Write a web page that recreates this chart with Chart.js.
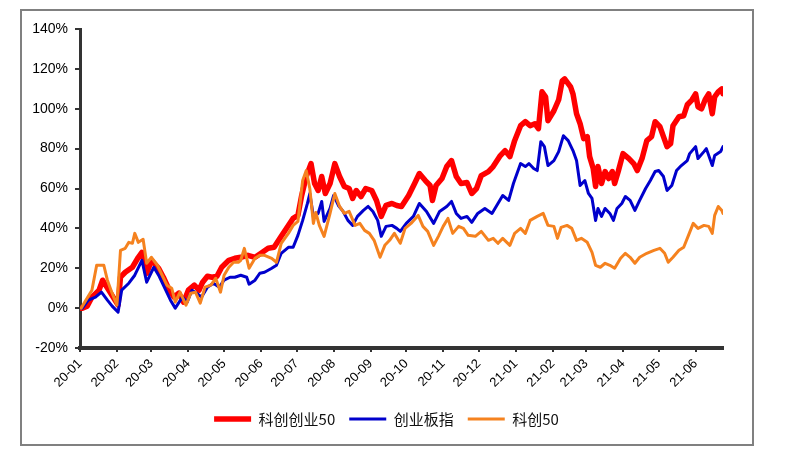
<!DOCTYPE html>
<html>
<head>
<meta charset="utf-8">
<script src="https://cdn.jsdelivr.net/npm/chart.js@4.4.1/dist/chart.umd.min.js"></script>
<style>
html,body{margin:0;padding:0;background:#fff;}
#wrap{width:800px;height:464px;position:relative;}
</style>
</head>
<body>
<div id="wrap"><canvas id="c" width="800" height="464"></canvas></div>
<script>
// Series names
const seriesNames = ['科创创业50', '创业板指', '科创50'];

// X axis: days since 2020-01-01, ticks at month starts
const tickDays = [0, 31, 60, 91, 121, 152, 182, 213, 244, 274, 305, 335, 366, 397, 425, 456, 486, 517];
const tickLabels = ['20-01','20-02','20-03','20-04','20-05','20-06','20-07','20-08','20-09','20-10','20-11','20-12','21-01','21-02','21-03','21-04','21-05','21-06'];

// 科创创业50 (cumulative return, %)
const redDays = [1,2,6,10,16,19,32,34,38,44,49,52,56,60,66,70,75,79,83,87,91,96,100,103,107,111,115,119,125,130,135,141,147,152,158,163,169,175,179,183,186,190,194,197,200,203,206,210,214,218,222,226,229,232,236,240,245,249,253,257,262,266,270,276,281,285,290,294,296,299,304,308,312,316,320,325,329,333,337,343,347,353,357,361,365,370,374,378,382,385,388,391,393,398,402,405,407,412,414,417,420,423,426,428,431,433,435,438,441,444,447,449,452,456,461,465,468,472,476,480,483,487,490,493,496,498,503,507,510,514,517,519,522,525,528,531,533,536,539,540];
const redVals = [0,0,1,5.5,9,14,1.5,15.5,18,20.5,25.5,28,17.5,24,20,15.5,9,5.5,7.5,3,9,11.5,9,13,16,15.5,16,20.5,24,25,25.5,26.5,25.5,27.5,30,30.5,36,41.5,45,46.5,56,66,72.5,62.5,59,66,57.5,62.5,72.5,66,61,60,55,59,56,60,59,54,46,51.5,52.5,51.5,51,56.5,62.5,67.5,64,61.5,54,61.5,65,71,74,66,62.5,63,57.5,60,66.5,68.5,71,76.5,79,76,84,91.5,93.5,91.5,92.5,90,108.5,106,94,99,104.5,114,115,111,107.5,97.5,92.5,85,86,76,70,61,71,62.5,68.5,65,68.5,62.5,68.5,77.5,75,72.5,69,75,84,86,93.5,91,86,81,82.5,91.5,96,96.5,102,104.5,107.5,101,100,104.5,107.5,97.5,106,108.5,110,107.5];

// 创业板指
const blueDays = [1,2,7,13,18,23,27,32,35,41,46,52,56,62,66,72,76,80,86,90,94,98,102,107,112,117,121,126,130,135,140,142,147,151,155,161,165,169,175,179,183,187,191,193,196,200,203,205,210,213,217,221,225,229,233,238,242,246,250,253,257,262,266,269,274,280,285,291,297,302,308,312,316,320,325,329,334,340,346,351,355,360,364,370,374,377,381,384,387,390,393,398,402,406,410,414,417,420,424,427,430,433,435,438,441,445,448,451,455,458,462,466,470,475,479,483,486,490,493,497,501,505,510,512,517,519,524,526,531,533,538,540];
const blueVals = [0,0,4,5.5,8,4,1,-2,9,12.5,16.5,24,13,20.5,16.5,9,4,0,5.5,3,9,7.5,5.5,10.5,12.5,10.5,14,15.5,15.5,16.5,15.5,12,14,17.5,18,20,21.5,27.5,30.5,30.5,36.5,44,52.5,57.5,46,47.5,53.5,43.5,50,56.5,51.5,48.5,44,41.5,46,49,51,48.5,44,36,41,41.5,40,38.5,42.5,46,52.5,48.5,42.5,48.5,51,53.5,47.5,45,46,43,47.5,50,47.5,52.5,56.5,54,62.5,72.5,71,72.5,70,69,83.5,81,71.5,74,78.5,86.5,84,79,74,61.5,64,57.5,55,44,50,46,50,47.5,44,50,52.5,56,54,49,54,60,64,68.5,69,66,59,61.5,69,71.5,74,77.5,81,75,78.5,80,71.5,76.5,78.5,81];

// 科创50
const orangeDays = [1,4,10,14,20,23,27,31,34,38,41,44,46,49,53,56,60,65,69,73,77,80,84,89,93,97,101,105,110,114,118,121,125,129,133,135,138,142,147,151,155,161,165,169,175,179,183,187,190,193,196,198,201,205,210,214,218,222,226,231,235,239,243,247,252,256,260,264,269,273,278,284,288,292,297,301,305,309,313,318,322,326,332,337,343,347,351,355,361,365,370,374,378,384,389,393,398,401,404,409,413,417,421,426,430,433,437,441,445,449,454,458,462,466,470,476,482,487,491,494,498,503,507,511,515,519,524,528,531,533,536,539,540];
const orangeVals = [0,3,9,21.5,21.5,14,7.5,1.5,29,30,33,32.5,37.5,33,34.5,22.5,25.5,21.5,16.5,11.5,10,3,8,1.5,7.5,8,2.5,10.5,11.5,15,8,16.5,20.5,23,23,24,30,20,25,26.5,26.5,25,23,32.5,37.5,41.5,43.5,64,69,60,42.5,48,41.5,36,47.5,57.5,51,47.5,48.5,41.5,42.5,39,37.5,34,25.5,31.5,34,37.5,32.5,40,42.5,46.5,41,38.5,31.5,36,41,45,37.5,41,40,36.5,36,38.5,34,35,32.5,35,31.5,37.5,40,37.5,44,46,47.5,41.5,41,35,40.5,41.5,40,34,35,33,28,21.5,20.5,22.5,21.5,20,25,27.5,25.5,22.5,25.5,27.5,29,30,27.5,23,25.5,29,30.5,36.5,42.5,40,41.5,41,37.5,46.5,51,49,47.5];

const colors = ['#FF0000', '#0000CC', '#F5821F'];
const widths = [5.5, 3, 3];

function pts(days, vals) { return days.map((d, i) => ({ x: d, y: vals[i] })); }

const frame = {
  id: 'frame',
  beforeDraw(chart) {
    const ctx = chart.ctx;
    ctx.save();
    ctx.fillStyle = '#ffffff';
    ctx.fillRect(0, 0, chart.width, chart.height);
    ctx.strokeStyle = '#808080';
    ctx.lineWidth = 2;
    ctx.strokeRect(21, 10, 732, 435);
    ctx.restore();
  }
};

// shift the legend so it is centred where the reference has it
const legendShift = {
  id: 'legendShift',
  afterLayout(chart) {
    if (chart.legend) { chart.legend.left += 12; chart.legend.right += 12; }
  }
};

new Chart(document.getElementById('c'), {
  type: 'line',
  data: {
    datasets: [
      { label: seriesNames[0], data: pts(redDays, redVals), borderColor: colors[0], backgroundColor: colors[0], borderWidth: widths[0], order: 3 },
      { label: seriesNames[1], data: pts(blueDays, blueVals), borderColor: colors[1], backgroundColor: colors[1], borderWidth: widths[1], order: 2 },
      { label: seriesNames[2], data: pts(orangeDays, orangeVals), borderColor: colors[2], backgroundColor: colors[2], borderWidth: widths[2], order: 1 }
    ]
  },
  options: {
    responsive: false,
    devicePixelRatio: 1,
    animation: false,
    layout: { padding: { left: 26, right: 77, top: 29, bottom: 27.5 } },
    elements: {
      point: { radius: 0, hoverRadius: 0 },
      line: { tension: 0, borderCapStyle: 'round', borderJoinStyle: 'round', fill: false }
    },
    plugins: {
      tooltip: { enabled: false },
      legend: {
        position: 'bottom',
        align: 'center',
        labels: {
          usePointStyle: true,
          pointStyle: 'line',
          pointStyleWidth: 37,
          boxHeight: 5,
          padding: 14,
          color: '#111',
          font: { family: '"Noto Sans CJK SC", sans-serif', size: 15 },
          sort: (a, b) => a.datasetIndex - b.datasetIndex
        }
      }
    },
    scales: {
      x: {
        type: 'linear',
        min: 0,
        max: 540,
        afterBuildTicks: (s) => { s.ticks = tickDays.map(v => ({ value: v })); },
        afterFit: (s) => { s.height = 49.5; },
        ticks: {
          autoSkip: false,
          minRotation: 45,
          maxRotation: 45,
          padding: 4,
          color: '#000',
          font: { family: '"Liberation Sans", Arial, sans-serif', size: 13 },
          callback: (v, i) => tickLabels[i]
        },
        grid: { drawOnChartArea: false, drawTicks: true, tickLength: 4, color: '#333', lineWidth: 2 },
        border: { display: true, color: '#333', width: 4 }
      },
      y: {
        min: -20,
        max: 140,
        afterFit: (s) => { s.width = 54; },
        ticks: {
          stepSize: 20,
          padding: 7,
          color: '#000',
          font: { family: '"Liberation Sans", Arial, sans-serif', size: 14 },
          callback: (v) => v + '%'
        },
        grid: { drawOnChartArea: false, drawTicks: true, tickLength: 5, color: '#333', lineWidth: 2 },
        border: { display: true, color: '#333', width: 3 }
      }
    }
  },
  plugins: [frame, legendShift]
});
</script>
</body>
</html>
